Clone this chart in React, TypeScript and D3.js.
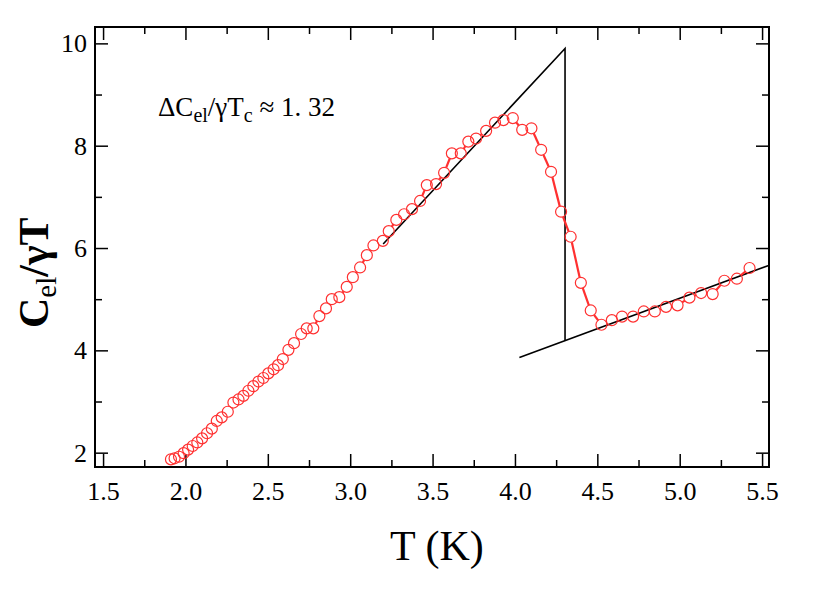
import React, { useEffect, useRef } from "react";
import * as d3 from "d3";

const WIDTH = 830;
const HEIGHT = 591;

// measured temperatures (K) and C_el / gamma T
const temps = [
  1.912, 1.934, 1.961, 1.989, 2.016, 2.044, 2.072, 2.101, 2.131, 2.16, 2.19,
  2.22, 2.257, 2.291, 2.322, 2.352, 2.382, 2.412, 2.443, 2.473, 2.503, 2.535,
  2.562, 2.591, 2.625, 2.659, 2.702, 2.736, 2.776, 2.813, 2.853, 2.888, 2.934,
  2.979, 3.016, 3.06, 3.101, 3.141, 3.198, 3.234, 3.28, 3.327, 3.375, 3.424,
  3.465, 3.521, 3.57, 3.617, 3.671, 3.717, 3.764, 3.825, 3.879, 3.93, 3.987,
  4.044, 4.1, 4.159, 4.219, 4.28, 4.338, 4.4, 4.46, 4.525, 4.588, 4.65, 4.717,
  4.782, 4.849, 4.917, 4.987, 5.059, 5.13, 5.2, 5.271, 5.347, 5.424,
];
const celOverGammaT = [
  1.87, 1.89, 1.92, 1.99, 2.06, 2.13, 2.2, 2.28, 2.38, 2.47, 2.62, 2.69, 2.8,
  2.98, 3.04, 3.11, 3.21, 3.3, 3.39, 3.46, 3.55, 3.63, 3.71, 3.83, 4.01, 4.14,
  4.32, 4.43, 4.43, 4.67, 4.82, 5.0, 5.04, 5.24, 5.43, 5.62, 5.86, 6.05, 6.14,
  6.33, 6.55, 6.66, 6.76, 6.92, 7.23, 7.25, 7.47, 7.85, 7.85, 8.08, 8.14, 8.29,
  8.45, 8.5, 8.54, 8.31, 8.34, 7.92, 7.49, 6.71, 6.22, 5.32, 4.78, 4.5, 4.59,
  4.66, 4.66, 4.76, 4.76, 4.85, 4.88, 5.03, 5.12, 5.1, 5.36, 5.4, 5.61,
];

// entropy-conserving construction lines
const superFit = [
  [3.2, 6.08],
  [4.304, 9.9],
  [4.304, 4.19],
];
const normalFit = [
  [4.027, 3.86],
  [5.54, 5.66],
];

const xMajor = [1.5, 2.0, 2.5, 3.0, 3.5, 4.0, 4.5, 5.0, 5.5];
const xMinor = [1.75, 2.25, 2.75, 3.25, 3.75, 4.25, 4.75, 5.25];
const yMajor = [2, 4, 6, 8, 10];
const yMinor = [3, 5, 7, 9];

const FONT = "'Liberation Serif', 'Times New Roman', serif";
const RED = "#ff3030";

export default function App() {
  const ref = useRef<SVGSVGElement | null>(null);

  useEffect(() => {
    const svg = d3.select(ref.current);
    svg.selectAll("*").remove();

    const margin = { top: 27, right: 61, bottom: 124, left: 95 };
    const x = d3
      .scaleLinear()
      .domain([1.451, 5.542])
      .range([margin.left, WIDTH - margin.right]);
    const y = d3
      .scaleLinear()
      .domain([1.72, 10.32])
      .range([HEIGHT - margin.bottom, margin.top]);

    const [x0, x1] = x.range();
    const [y0, y1] = y.range();

    // ticks, all inward
    const addAxis = (axis: any, transform: string, labels: boolean) => {
      const g = svg
        .append("g")
        .attr("transform", transform)
        .call(axis)
        .attr("font-family", FONT)
        .attr("font-size", 26);
      g.select(".domain").remove();
      g.selectAll("line").attr("stroke", "#000").attr("stroke-width", 1.5);
      g.selectAll("text").attr("fill", "#000");
      if (!labels) g.selectAll("text").remove();
    };

    const fmt = d3.format(".1f");
    addAxis(
      d3.axisBottom(x).tickValues(xMajor).tickSize(-13).tickPadding(15).tickFormat(fmt),
      `translate(0,${y0})`,
      true
    );
    addAxis(d3.axisBottom(x).tickValues(xMinor).tickSize(-7), `translate(0,${y0})`, false);
    addAxis(d3.axisTop(x).tickValues(xMajor).tickSize(-13), `translate(0,${y1})`, false);
    addAxis(d3.axisTop(x).tickValues(xMinor).tickSize(-7), `translate(0,${y1})`, false);
    addAxis(
      d3.axisLeft(y).tickValues(yMajor).tickSize(-13).tickPadding(8).tickFormat(d3.format("d")),
      `translate(${x0},0)`,
      true
    );
    addAxis(d3.axisLeft(y).tickValues(yMinor).tickSize(-7), `translate(${x0},0)`, false);
    addAxis(d3.axisRight(y).tickValues(yMajor).tickSize(-13), `translate(${x1},0)`, false);
    addAxis(d3.axisRight(y).tickValues(yMinor).tickSize(-7), `translate(${x1},0)`, false);

    // frame
    svg
      .append("rect")
      .attr("x", x0)
      .attr("y", y1)
      .attr("width", x1 - x0)
      .attr("height", y0 - y1)
      .attr("fill", "none")
      .attr("stroke", "#000")
      .attr("stroke-width", 2);

    // black construction lines
    const line = d3
      .line<number[]>()
      .x((d) => x(d[0]))
      .y((d) => y(d[1]));
    [superFit, normalFit].forEach((pts) => {
      svg
        .append("path")
        .attr("d", line(pts))
        .attr("fill", "none")
        .attr("stroke", "#000")
        .attr("stroke-width", 1.6);
    });

    // data: segments trimmed at circle edges, then hollow circles
    const r = 5.5;
    const pts = temps.map((t, i) => [x(t), y(celOverGammaT[i])]);
    const segs: number[][] = [];
    for (let i = 1; i < pts.length; i++) {
      const [ax, ay] = pts[i - 1];
      const [bx, by] = pts[i];
      const dist = Math.hypot(bx - ax, by - ay);
      if (dist <= 2 * r) continue;
      const ux = (bx - ax) / dist;
      const uy = (by - ay) / dist;
      segs.push([ax + ux * r, ay + uy * r, bx - ux * r, by - uy * r]);
    }
    svg
      .append("g")
      .selectAll("line")
      .data(segs)
      .join("line")
      .attr("x1", (d) => d[0])
      .attr("y1", (d) => d[1])
      .attr("x2", (d) => d[2])
      .attr("y2", (d) => d[3])
      .attr("stroke", RED)
      .attr("stroke-width", 2.2);

    svg
      .append("g")
      .selectAll("circle")
      .data(pts)
      .join("circle")
      .attr("cx", (d) => d[0])
      .attr("cy", (d) => d[1])
      .attr("r", r)
      .attr("fill", "none")
      .attr("stroke", RED)
      .attr("stroke-width", 1.2);

    // annotation
    const note = svg
      .append("text")
      .attr("x", 158)
      .attr("y", 116)
      .attr("font-family", FONT)
      .attr("font-size", 27)
      .attr("fill", "#000");
    note.append("tspan").text("ΔC");
    note.append("tspan").attr("font-size", 20).attr("dy", 6).text("el");
    note.append("tspan").attr("dy", -6).text("/γT");
    note.append("tspan").attr("font-size", 20).attr("dy", 6).text("c");
    note.append("tspan").attr("dy", -6).text(" ≈ 1. 32");

    // axis titles
    svg
      .append("text")
      .attr("x", 390)
      .attr("y", 560)
      .attr("font-family", FONT)
      .attr("font-size", 42)
      .attr("fill", "#000")
      .text("T (K)");

    const yt = svg
      .append("text")
      .attr("transform", "translate(48,328) rotate(-90)")
      .attr("font-family", FONT)
      .attr("font-size", 42)
      .attr("font-weight", "bold")
      .attr("fill", "#000");
    yt.append("tspan").text("C");
    yt.append("tspan").attr("font-size", 29).attr("font-weight", "normal").attr("dy", 8).text("el");
    yt.append("tspan").attr("dy", -8).text("/γT");
  }, []);

  return (
    <svg
      ref={ref}
      width={WIDTH}
      height={HEIGHT}
      style={{ position: "absolute", left: 0, top: 0, background: "#fff" }}
    />
  );
}
